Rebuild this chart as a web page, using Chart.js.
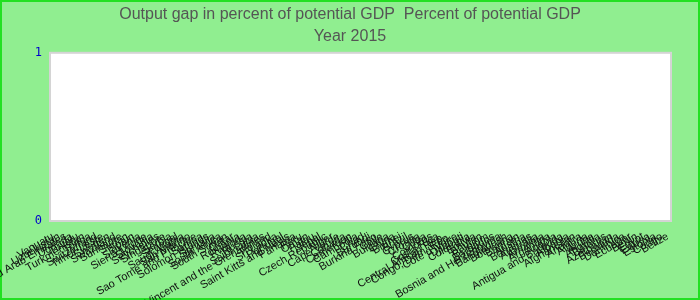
<!DOCTYPE html>
<html>
<head>
<meta charset="utf-8">
<script src="https://cdn.jsdelivr.net/npm/chart.js@4.4.1/dist/chart.umd.min.js"></script>
<style>
  html, body { margin: 0; padding: 0; background: #90ee90; }
  #wrap { width: 700px; height: 300px; position: relative; }
</style>
</head>
<body>
<div id="wrap"><canvas id="c" width="700" height="300"></canvas></div>
<script>
// Categories (countries) as they appear along the x axis
const countries = [
  "Vanuatu", "Uzbekistan", "United Arab Emirates", "Uganda", "Tuvalu",
  "Turkmenistan", "Tonga", "Switzerland", "Timor-Leste", "Sweden",
  "Swaziland", "Suriname", "Sudan", "Spain", "Slovenia",
  "Sierra Leone", "Slovakia", "Seychelles", "Singapore", "Serbia",
  "Senegal", "Saudi Arabia", "San Marino", "Sao Tome and Principe", "Samoa",
  "Solomon Islands", "Somalia", "South Africa", "South Sudan", "Qatar",
  "Romania", "Rwanda", "Russia", "Saint Lucia", "Saint Vincent and the Grenadines",
  "Poland", "Sri Lanka", "Portugal", "Saint Kitts and Nevis", "Panama",
  "Peru", "Oman", "Palau", "Nepal", "Czech Republic",
  "Niger", "Cape Verde", "Canada", "Cameroon", "Cambodia",
  "Chad", "Burundi", "Burkina Faso", "Chile", "Bulgaria",
  "China", "Brunei", "Brazil", "Cyprus", "Croatia",
  "Cuba", "Comoros", "Costa Rica", "Central African Rep.", "Congo, Dem. Rep.",
  "Cote d'Ivoire", "Djibouti", "Colombia", "Bolivia", "Bhutan",
  "Belgium", "Barbados", "Bosnia and Herzegovina", "Bangladesh", "Botswana",
  "Bahrain", "Austria", "Bahamas", "Australia", "Armenia",
  "Argentina", "Angola", "Antigua and Barbuda", "Albania", "Afghanistan",
  "Andorra", "Algeria", "Aruba", "Anguilla", "Belarus",
  "Azerbaijan", "Bermuda", "Dominica", "Ecuador", "Benin",
  "Egypt", "Eritrea", "Estonia", "Congo", "Belize"
];
// Output gap values for 2015 (no values are drawn in the reference)
const outputGap = [];
// Y axis tick labels
const yTicks = [0, 1];

const bgPlugin = {
  id: 'bg',
  beforeDraw(chart) {
    const ctx = chart.ctx, a = chart.chartArea;
    ctx.save();
    ctx.fillStyle = '#90ee90';
    ctx.fillRect(0, 0, chart.width, chart.height);
    ctx.strokeStyle = '#22e022';
    ctx.lineWidth = 2;
    ctx.strokeRect(1, 1, chart.width - 2, chart.height - 2);
    ctx.fillStyle = '#ffffff';
    ctx.fillRect(a.left, a.top, a.right - a.left, a.bottom - a.top);
    ctx.strokeStyle = '#d4d4d4';
    ctx.lineWidth = 2;
    ctx.strokeRect(a.left, a.top, a.right - a.left, a.bottom - a.top);
    ctx.restore();
  }
};

new Chart(document.getElementById('c'), {
  type: 'bar',
  data: {
    labels: countries,
    datasets: [{ label: 'Output gap', data: outputGap, backgroundColor: '#3366cc' }]
  },
  options: {
    responsive: false,
    animation: false,
    devicePixelRatio: 1,
    layout: { padding: { left: 2, right: 2, top: 0, bottom: 0 } },
    plugins: {
      legend: { display: false },
      tooltip: { enabled: false },
      title: {
        display: true,
        text: ['Output gap in percent of potential GDP  Percent of potential GDP', 'Year 2015'],
        color: '#555555',
        font: { family: "'Liberation Sans', Arial, sans-serif", size: 16, weight: 'normal', lineHeight: 1.4 },
        padding: { top: 3, bottom: 5 }
      }
    },
    scales: {
      x: {
        grid: { display: false, drawTicks: false },
        border: { display: false },
        ticks: {
          autoSkip: false,
          minRotation: 30,
          maxRotation: 30,
          padding: 9,
          color: '#111111',
          font: { family: "'Liberation Sans', Arial, sans-serif", size: 11 }
        },
        afterFit(scale) { scale.height = 79; }
      },
      y: {
        min: yTicks[0],
        max: yTicks[yTicks.length - 1],
        grid: { display: false, drawTicks: false },
        border: { display: false },
        afterBuildTicks(scale) { scale.ticks = yTicks.map(v => ({ value: v })); },
        ticks: {
          color: '#0000cc',
          padding: 8,
          font: { family: "'DejaVu Sans Mono', monospace", size: 12 }
        },
        afterFit(scale) { scale.width = 48; }
      },
      yRight: {
        position: 'right',
        display: true,
        min: yTicks[0],
        max: yTicks[yTicks.length - 1],
        grid: { display: false, drawTicks: false },
        border: { display: false },
        ticks: { display: false },
        afterFit(scale) { scale.width = 27; }
      }
    }
  },
  plugins: [bgPlugin]
});
</script>
</body>
</html>
